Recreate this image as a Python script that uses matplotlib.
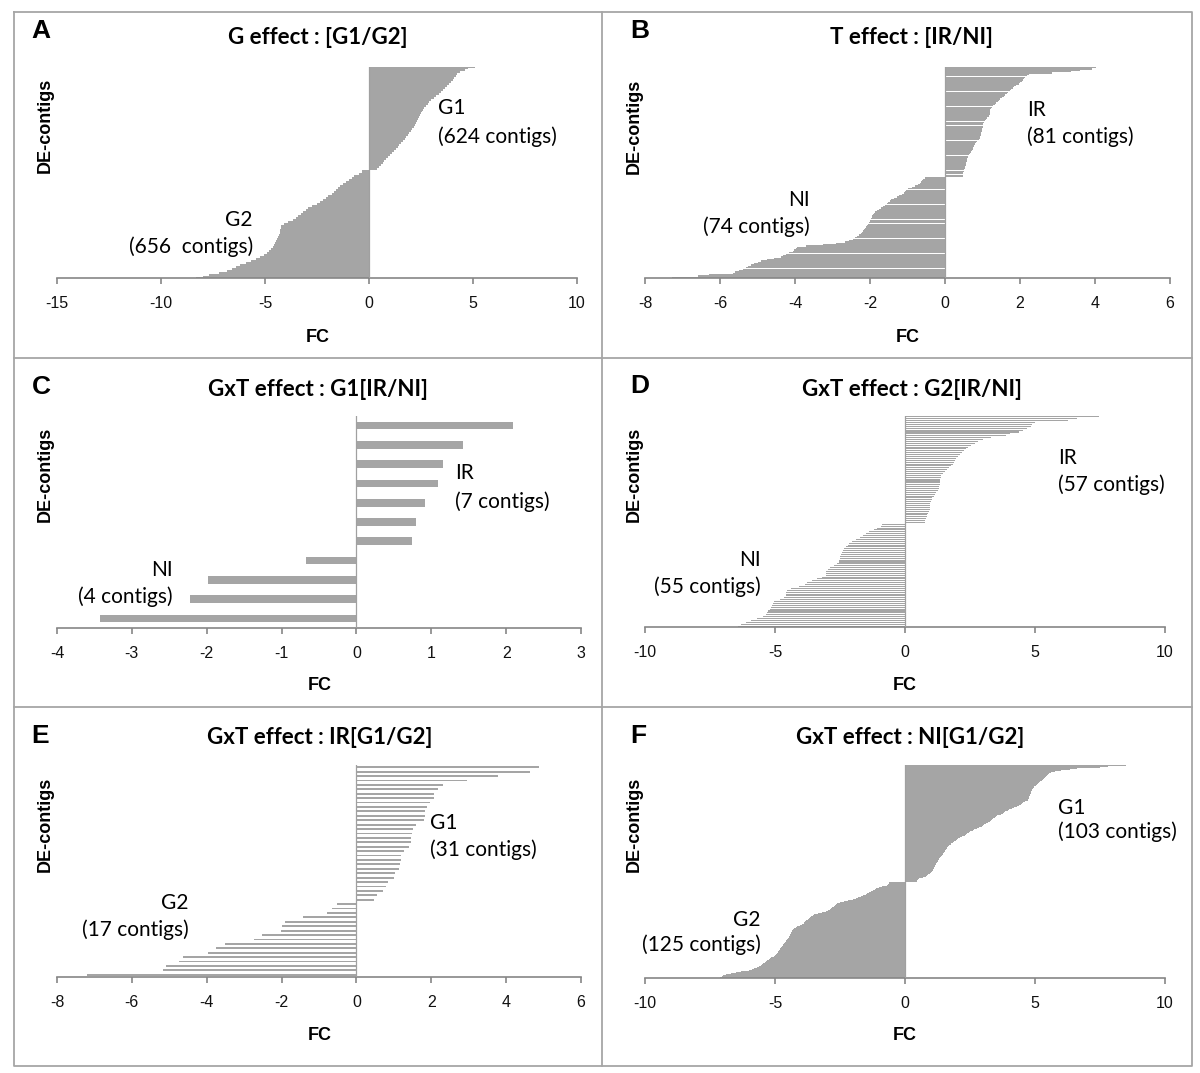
import numpy as np
import matplotlib
matplotlib.use('Agg')
import matplotlib.pyplot as plt
from matplotlib.lines import Line2D

W, H = 1200, 1073

# ---- data (FC values, top bar -> bottom bar) ----
# A: G effect [G1/G2] - too many bars to read one by one, so the staircase
# is kept as levels + how many bars sit on each level
a_g1_levels = [5.6, 5.1, 4.75, 4.6, 4.38, 4.25, 4.16, 4.09, 4.02, 3.95, 3.85, 3.75,
               3.65, 3.55, 3.45, 3.35, 3.23, 3.12, 3.0, 2.9, 2.82, 2.73, 2.65, 2.6,
               2.53, 2.48, 2.43, 2.39, 2.34, 2.3, 2.25, 2.2, 2.15, 2.08, 2.0, 1.93,
               1.87, 1.8, 1.72, 1.63, 1.55, 1.46, 1.38, 1.29, 1.2, 1.1, 1.0, 0.9,
               0.82, 0.74, 0.66, 0.58, 0.5, 0.4]
a_g1_counts = [3, 4, 5] + [12] * 51
a_g2_levels = [-0.35, -0.5, -0.7, -0.8, -0.95, -1.1, -1.25, -1.38, -1.5, -1.6, -1.7,
               -1.8, -1.95, -2.05, -2.2, -2.35, -2.5, -2.75, -2.95, -3.05, -3.15,
               -3.25, -3.4, -3.5, -3.65, -3.9, -4.1, -4.22, -4.24, -4.26, -4.28,
               -4.3, -4.33, -4.37, -4.4, -4.45, -4.5, -4.55, -4.6, -4.7, -4.8, -4.9,
               -5.05, -5.25, -5.45, -5.65, -5.9, -6.2, -6.4, -6.6, -6.85, -7.2,
               -7.7, -8.0, -8.3, -8.6]
a_g2_counts = [20] + [12] * 52 + [5, 4, 3]

# B: T effect [IR/NI]
b_ir = [4.03, 3.92, 3.60, 3.36, 2.85, 2.24, 2.18, 2.14, 2.11, 2.08,
        2.05, 2.01, 1.96, 1.88, 1.84, 1.80, 1.76, 1.72, 1.68, 1.64,
        1.60, 1.57, 1.52, 1.47, 1.43, 1.40, 1.37, 1.32, 1.27, 1.24,
        1.22, 1.21, 1.20, 1.20, 1.19, 1.18, 1.16, 1.12, 1.09, 1.06,
        1.04, 1.02, 1.01, 1.00, 1.00, 0.99, 0.99, 0.98, 0.97, 0.96,
        0.95, 0.94, 0.93, 0.91, 0.86, 0.82, 0.80, 0.78, 0.76, 0.75,
        0.74, 0.73, 0.70, 0.67, 0.65, 0.62, 0.60, 0.59, 0.58, 0.58,
        0.57, 0.56, 0.55, 0.53, 0.52, 0.51, 0.50, 0.49, 0.48, 0.48, 0.47]
b_ni = [-0.54, -0.58, -0.62, -0.64, -0.66, -0.72, -0.80, -0.88, -0.98, -1.05,
        -1.07, -1.09, -1.14, -1.22, -1.28, -1.36, -1.43, -1.48, -1.52, -1.55,
        -1.60, -1.66, -1.72, -1.77, -1.82, -1.86, -1.90, -1.92, -1.94, -1.96,
        -1.98, -2.00, -2.01, -2.03, -2.05, -2.09, -2.12, -2.14, -2.16, -2.18,
        -2.21, -2.25, -2.29, -2.35, -2.40, -2.45, -2.55, -2.68, -2.90, -3.26,
        -3.70, -3.95, -3.98, -4.02, -4.06, -4.15, -4.25, -4.32, -4.38, -4.55,
        -4.75, -4.90, -5.00, -5.10, -5.18, -5.25, -5.30, -5.40, -5.50, -5.60,
        -5.65, -6.30, -6.60, -7.27]

# C: GxT effect G1[IR/NI]
c_ir = [2.09, 1.43, 1.15, 1.09, 0.91, 0.79, 0.74]
c_ni = [-0.67, -1.98, -2.22, -3.43]

# D: GxT effect G2[IR/NI]
d_ir = [7.45, 6.60, 6.26, 5.00, 4.88, 4.85, 4.70, 4.55, 4.40, 4.05,
        3.90, 3.30, 3.00, 2.80, 2.68, 2.55, 2.42, 2.35, 2.25, 2.18,
        2.10, 2.03, 1.98, 1.93, 1.88, 1.83, 1.78, 1.70, 1.62, 1.55,
        1.45, 1.40, 1.37, 1.36, 1.35, 1.34, 1.33, 1.32, 1.30, 1.25,
        1.20, 1.15, 1.10, 1.05, 1.02, 1.00, 0.98, 0.97, 0.96, 0.95,
        0.93, 0.90, 0.86, 0.83, 0.80, 0.78, 0.76]
d_ni = [-0.88, -0.92, -1.09, -1.19, -1.38, -1.50, -1.62, -1.75, -1.90, -2.05,
        -2.14, -2.20, -2.28, -2.35, -2.40, -2.44, -2.47, -2.50, -2.50, -2.52,
        -2.53, -2.61, -2.75, -2.90, -2.97, -3.02, -3.02, -3.05, -3.20, -3.37,
        -3.56, -3.78, -3.86, -4.08, -4.37, -4.52, -4.57, -4.57, -4.57, -4.67,
        -4.82, -5.04, -5.08, -5.11, -5.14, -5.18, -5.26, -5.29, -5.36, -5.48,
        -5.70, -5.92, -6.10, -6.29, -6.44]

# E: GxT effect IR[G1/G2]
e_g1 = [4.87, 4.64, 3.78, 2.95, 2.30, 2.17, 2.08, 2.06, 1.97, 1.88,
        1.83, 1.82, 1.81, 1.60, 1.52, 1.49, 1.47, 1.45, 1.40, 1.28,
        1.20, 1.19, 1.16, 1.14, 1.02, 1.01, 0.85, 0.79, 0.72, 0.56, 0.46]
e_g2 = [-0.52, -0.64, -0.78, -1.44, -1.90, -1.99, -2.02, -2.52, -2.74, -3.50,
        -3.75, -3.96, -4.63, -4.73, -5.09, -5.16, -7.20]

# F: GxT effect NI[G1/G2]
f_g1 = [8.50, 7.80, 7.50, 6.60, 6.35, 6.00, 5.75, 5.65, 5.60, 5.55,
        5.50, 5.47, 5.44, 5.40, 5.35, 5.30, 5.25, 5.20, 5.15, 5.10,
        5.08, 5.05, 5.00, 4.98, 4.95, 4.93, 4.90, 4.88, 4.86, 4.85,
        4.84, 4.82, 4.80, 4.78, 4.76, 4.75, 4.74, 4.72, 4.70, 4.60,
        4.55, 4.50, 4.45, 4.40, 4.30, 4.20, 4.10, 4.00, 3.95, 3.85,
        3.80, 3.75, 3.68, 3.60, 3.55, 3.50, 3.45, 3.40, 3.35, 3.30,
        3.25, 3.20, 3.12, 3.05, 3.00, 2.95, 2.85, 2.78, 2.72, 2.65,
        2.60, 2.50, 2.45, 2.40, 2.35, 2.30, 2.20, 2.10, 2.05, 2.00,
        1.95, 1.90, 1.85, 1.80, 1.78, 1.75, 1.70, 1.66, 1.62, 1.60,
        1.58, 1.55, 1.52, 1.50, 1.47, 1.45, 1.42, 1.40, 1.37, 1.35,
        1.32, 1.30, 1.28, 1.25, 1.23, 1.20, 1.18, 1.16, 1.14, 1.12,
        1.10, 1.08, 1.06, 1.04, 1.02, 1.00, 0.95, 0.90, 0.85, 0.80,
        0.70, 0.55, 0.50, 0.48, 0.45]
f_g2 = [-0.60, -0.62, -0.65, -0.70, -0.80, -0.90, -1.00, -1.10, -1.15, -1.22,
        -1.30, -1.38, -1.45, -1.50, -1.60, -1.70, -1.80, -1.90, -2.00, -2.10,
        -2.20, -2.35, -2.50, -2.60, -2.65, -2.70, -2.75, -2.80, -2.85, -2.90,
        -2.95, -3.05, -3.20, -3.35, -3.45, -3.50, -3.55, -3.60, -3.65, -3.70,
        -3.75, -3.80, -3.85, -3.88, -3.90, -3.95, -4.05, -4.15, -4.20, -4.25,
        -4.28, -4.30, -4.33, -4.35, -4.38, -4.40, -4.42, -4.44, -4.46, -4.48,
        -4.50, -4.53, -4.56, -4.58, -4.60, -4.62, -4.65, -4.68, -4.70, -4.73,
        -4.76, -4.79, -4.82, -4.85, -4.88, -4.90, -4.93, -4.96, -5.00, -5.05,
        -5.10, -5.15, -5.20, -5.25, -5.30, -5.35, -5.40, -5.45, -5.50, -5.55,
        -5.60, -5.70, -5.80, -5.90, -6.00, -6.10, -6.30, -6.50, -6.70, -6.90,
        -7.00, -7.05, -7.10]

a_vals = list(np.repeat(a_g1_levels, a_g1_counts)) + list(np.repeat(a_g2_levels, a_g2_counts))

BAR = '#a5a5a5'
AXC = '#868686'
TITLE_FONT = 'Lato'
SANS = 'Liberation Sans'

plt.rcParams['font.family'] = SANS

fig = plt.figure(figsize=(W / 100, H / 100), dpi=100)


def fx(px):
    return px / W


def fy(py):
    return 1 - py / H


def panel(box, vals, ticks, h, letter, title, title_xy, letter_xy, ylab_xy, fc_xy, notes):
    left, right, top, bottom = box
    ax = fig.add_axes([fx(left), fy(bottom), (right - left) / W, (bottom - top) / H])
    n = len(vals)
    y = np.arange(n)[::-1]
    ax.barh(y, vals, height=h, color=BAR, linewidth=0, antialiased=False, zorder=2)
    ax.axvline(0, color='#a0a0a0', lw=0.9, zorder=3)
    ax.set_xlim(ticks[0], ticks[-1])
    ax.set_ylim(-0.5, n - 0.5)
    ax.set_xticks(ticks)
    ax.set_xticklabels([f'{t:g}' for t in ticks], fontsize=11.5)
    ax.set_yticks([])
    for s in ['left', 'right', 'top']:
        ax.spines[s].set_visible(False)
    ax.spines['bottom'].set_color(AXC)
    ax.spines['bottom'].set_linewidth(1.2)
    ax.tick_params(axis='x', color=AXC, labelcolor='#111111', length=4, width=1.2,
                   direction='out', pad=9)
    ax.patch.set_alpha(0)

    fig.text(fx(letter_xy[0]), fy(letter_xy[1]), letter, fontsize=19, fontweight='bold',
             ha='center', va='center')
    fig.text(fx(title_xy[0]), fy(title_xy[1]), title, fontsize=16, fontweight='bold',
             family=TITLE_FONT, ha='center', va='center')
    fig.text(fx(ylab_xy[0]), fy(ylab_xy[1]), 'DE-contigs', fontsize=13, fontweight='bold',
             rotation=90, ha='center', va='center')
    fig.text(fx(fc_xy[0]), fy(fc_xy[1]), 'FC', fontsize=13, fontweight='bold',
             ha='center', va='center')
    for (tx, ty, s, ha) in notes:
        fig.text(fx(tx), fy(ty), s, fontsize=15, family=TITLE_FONT, ha=ha, va='center')
    return ax


panel((57, 577, 67, 278), a_vals, [-15, -10, -5, 0, 5, 10], 1.0,
      'A', 'G effect : [G1/G2]', (318, 37), (41, 31), (45, 125), (318, 337),
      [(438, 108, 'G1', 'left'), (438, 137, '(624 contigs)', 'left'),
       (253, 220, 'G2', 'right'), (253, 247, '(656  contigs)', 'right')])

panel((645, 1170, 67, 278), b_ir + b_ni, [-8, -6, -4, -2, 0, 2, 4, 6], 0.92,
      'B', 'T effect : [IR/NI]', (912, 37), (640, 31), (634, 126), (908, 337),
      [(1027, 110, 'IR', 'left'), (1027, 137, '(81 contigs)', 'left'),
       (810, 200, 'NI', 'right'), (810, 227, '(74 contigs)', 'right')])

panel((57, 581, 416, 628), c_ir + c_ni, [-4, -3, -2, -1, 0, 1, 2, 3], 0.4,
      'C', 'GxT effect : G1[IR/NI]', (318, 390), (41, 387), (45, 474), (320, 685),
      [(455, 473, 'IR', 'left'), (455, 502, '(7 contigs)', 'left'),
       (173, 570, 'NI', 'right'), (173, 597, '(4 contigs)', 'right')])

panel((645, 1165, 416, 627), d_ir + d_ni, [-10, -5, 0, 5, 10], 0.55,
      'D', 'GxT effect : G2[IR/NI]', (912, 390), (640, 386), (634, 474), (905, 685),
      [(1058, 458, 'IR', 'left'), (1058, 485, '(57 contigs)', 'left'),
       (761, 560, 'NI', 'right'), (761, 587, '(55 contigs)', 'right')])

panel((57, 581, 765, 977), e_g1 + e_g2, [-8, -6, -4, -2, 0, 2, 4, 6], 0.4,
      'E', 'GxT effect : IR[G1/G2]', (320, 737), (40, 736), (45, 824), (320, 1035),
      [(430, 823, 'G1', 'left'), (430, 850, '(31 contigs)', 'left'),
       (189, 903, 'G2', 'right'), (189, 930, '(17 contigs)', 'right')])

panel((645, 1165, 765, 978), f_g1 + f_g2, [-10, -5, 0, 5, 10], 1.0,
      'F', 'GxT effect : NI[G1/G2]', (910, 737), (638, 736), (634, 824), (905, 1035),
      [(1058, 808, 'G1', 'left'), (1058, 832, '(103 contigs)', 'left'),
       (761, 920, 'G2', 'right'), (761, 945, '(125 contigs)', 'right')])

# panel frame lines
GRID = '#a6a6a6'
x0, x1, xm = 14, 1192, 602
y0, y1 = 12, 1066
for ya in (358, 707):
    fig.add_artist(Line2D([fx(x0), fx(x1)], [fy(ya), fy(ya)], color=GRID, lw=1.3))
fig.add_artist(Line2D([fx(xm), fx(xm)], [fy(y0), fy(y1)], color=GRID, lw=1.3))
fig.add_artist(Line2D([fx(x0), fx(x1), fx(x1), fx(x0), fx(x0)],
                      [fy(y0), fy(y0), fy(y1), fy(y1), fy(y0)], color=GRID, lw=1.3))

fig.savefig('out.png', dpi=100, facecolor='white')
